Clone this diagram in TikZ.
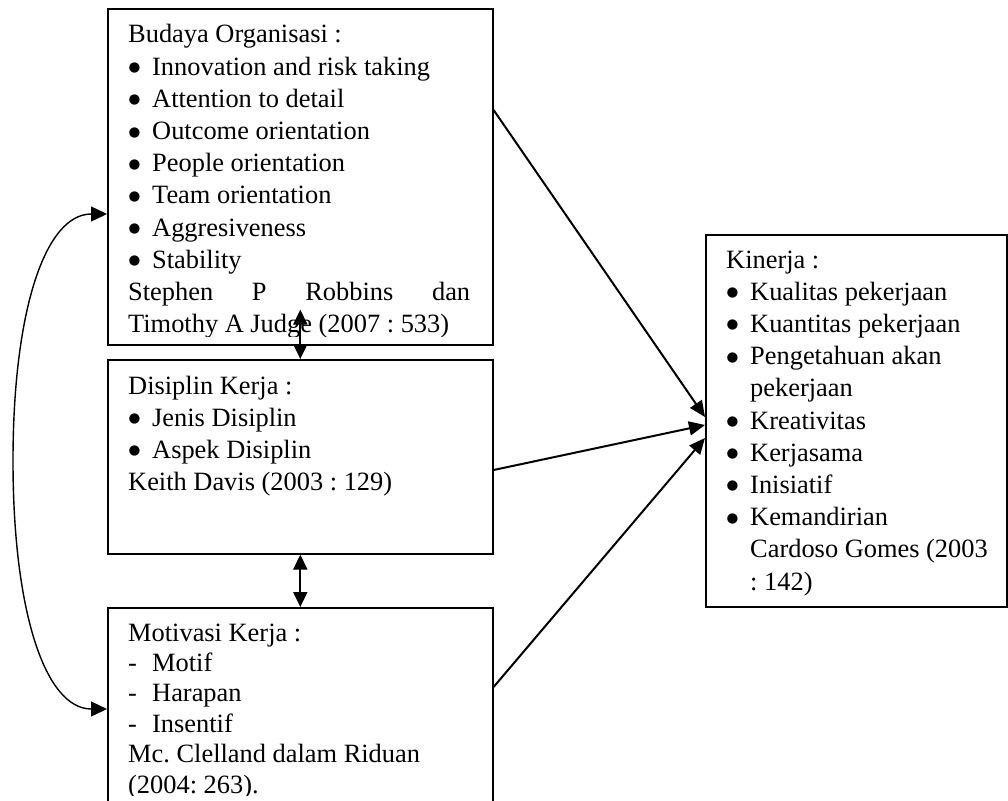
\documentclass[tikz,border=0pt]{standalone}
\usepackage{fontspec}
\setmainfont{Liberation Serif}
\newfontfamily\symfont{DejaVu Sans}
\usetikzlibrary{arrows.meta}
\newcommand\bul{\makebox[24pt][l]{\hspace{0.5pt}\raisebox{3.5pt}{\symfont\fontsize{13.5}{13.5}\selectfont ●}}}
\newcommand\dsh{\makebox[24pt][l]{-}}
\newcommand\ind{\hspace*{24pt}}
\begin{document}
\frenchspacing
\begin{tikzpicture}[x=1pt,y=-1pt,
  box/.style={draw=black, line width=1.6pt, minimum width=385pt, anchor=north west, inner sep=0pt},
  txt/.style={anchor=base west, inner sep=0pt, font=\fontsize{26.4}{32.2}\selectfont},
  con/.style={line width=2pt, -{Triangle[length=16pt,width=14pt]}},
  dcon/.style={line width=2pt, {Triangle[length=15pt,width=14pt]}-{Triangle[length=15pt,width=14pt]}},
  ccon/.style={line width=1.4pt, {Triangle[length=16pt,width=15pt]}-{Triangle[length=16pt,width=15pt]}},
  ]
\useasboundingbox (0,0) rectangle (1008,800);
\clip (0,0) rectangle (1008,800);
% boxes
\node[box, minimum height=336pt] (b1) at (107,8) {};
\node[box, minimum height=194pt] (b2) at (107,359) {};
\node[box, minimum height=220pt] (b3) at (107,607) {};
\node[box, minimum width=301pt, minimum height=372pt] (k) at (705,234) {};
% texts
\begin{scope}
\clip (107,8) rectangle (492,336);
\node[txt] (t1) at (128,43) {\parbox[t]{342pt}{%
Budaya Organisasi :\\
\bul Innovation and risk taking\\
\bul Attention to detail\\
\bul Outcome orientation\\
\bul People orientation\\
\bul Team orientation\\
\bul Aggresiveness\\
\bul Stability\\
Stephen\hfill P\hfill Robbins\hfill dan\\
Timothy A Judge (2007 : 533)}};
\end{scope}
\node[txt] (t2) at (128,394) {\parbox[t]{342pt}{%
Disiplin Kerja :\\
\bul Jenis Disiplin\\
\bul Aspek Disiplin\\
Keith Davis (2003 : 129)}};
\begin{scope}
\clip (107,607) rectangle (492,795);
\node[txt, font=\fontsize{26.4}{30.4}\selectfont] (t3) at (128,641) {\parbox[t]{342pt}{%
Motivasi Kerja :\\
\dsh Motif\\
\dsh Harapan\\
\dsh Insentif\\
Mc. Clelland dalam Riduan\\
(2004: 263).}};
\end{scope}
\node[txt] (t4) at (726,268) {\parbox[t]{280pt}{%
Kinerja :\\
\bul Kualitas pekerjaan\\
\bul Kuantitas pekerjaan\\
\bul Pengetahuan akan\\
\ind pekerjaan\\
\bul Kreativitas\\
\bul Kerjasama\\
\bul Inisiatif\\
\bul Kemandirian\\
\ind Cardoso Gomes (2003\\
\ind : 142)}};
% connectors
\draw[con] ([yshift=-102pt]b1.north east) -- ([yshift=-183pt]k.north west);
\draw[con] ([yshift=-111pt]b2.north east) -- ([yshift=-191pt]k.north west);
\draw[con] ([yshift=-80pt]b3.north east) -- ([yshift=-204pt]k.north west);
\draw[dcon] ([yshift=36pt]b1.south) -- (b2.north);
\draw[dcon] (b2.south) -- (b3.north);
\coordinate (m) at (13,461);
\draw[ccon] ([yshift=-206pt]b1.north west) .. controls +(-62,0) and +(0,-150) .. (m) .. controls +(0,150) and +(-62,0) .. ([yshift=-102pt]b3.north west);
\end{tikzpicture}
\end{document}
